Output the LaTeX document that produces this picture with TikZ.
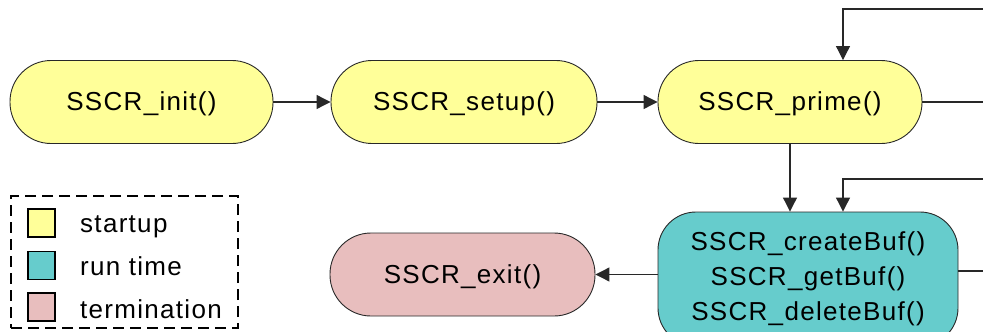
\documentclass[tikz,border=0pt]{standalone}
\usepackage{fontspec}
\setmainfont{Liberation Sans}[LetterSpace=5]
\usetikzlibrary{arrows.meta}
\definecolor{startupc}{RGB}{255,255,153}
\definecolor{runc}{RGB}{102,204,204}
\definecolor{termc}{RGB}{232,190,190}
\definecolor{edgec}{RGB}{40,40,40}
\tikzset{
  x=1pt, y=-1pt,
  lbl/.style={font=\fontsize{26}{35}\selectfont},
  stadium/.style={draw=edgec, line width=0.9pt, rounded corners=41pt,
    minimum height=83pt, inner sep=0pt, text height=23pt, text depth=5.5pt, lbl},
  conn/.style={draw=edgec, line width=1.1pt},
  arr/.style={conn, -{Triangle[length=14pt, width=14pt]}},
  keybox/.style={draw=black, line width=1.4pt, minimum width=27pt,
    minimum height=28pt, inner sep=0pt},
  keytext/.style={anchor=base west, inner sep=0pt, lbl}
}
\begin{document}
\begin{tikzpicture}
\useasboundingbox (0,0) rectangle (983,332);
\clip (0,0) rectangle (983,332);

% startup stages
\node[stadium, fill=startupc, minimum width=263pt] (init)  at (141.5,102) {SSCR\_init()};
\node[stadium, fill=startupc, minimum width=266pt] (setup) at (464,102)   {SSCR\_setup()};
\node[stadium, fill=startupc, minimum width=264pt] (prime) at (790,102)   {SSCR\_prime()};

% run-time buffer calls
\node[draw=edgec, line width=0.9pt, fill=runc, rounded corners=38pt,
      minimum width=300pt, minimum height=134pt, inner sep=0pt,
      align=center, lbl] (buf) at (808,279)
      {SSCR\_createBuf()\\SSCR\_getBuf()\\SSCR\_deleteBuf()};

% termination
\node[stadium, fill=termc, minimum width=265pt] (exit) at (462.5,274.5) {SSCR\_exit()};

% loose ends running off to the right
\coordinate (inA)  at (990,9);
\coordinate (outA) at (990,102);
\coordinate (inB)  at (990,179);
\coordinate (outB) at (990,271);

% connectors
\draw[arr] (init.east) -- (setup.west);
\draw[arr] (setup.east) -- (prime.west);
\draw[arr] (inA) -| ([xshift=53pt]prime.north);
\draw[conn] (prime.east) -- (outA);
\draw[arr] (prime.south) -- (prime.south |- buf.north);
\draw[arr] (inB) -| ([xshift=35pt]buf.north);
\draw[conn] (buf.east |- outB) -- (outB);
\draw[arr] (buf.west |- exit.east) -- (exit.east);

% legend
\node[draw=black, line width=1.3pt, dash pattern=on 11pt off 6pt,
      minimum width=227pt, minimum height=132pt, inner sep=0pt] (legend) at (124.5,262) {};
\node[keybox, fill=startupc] (k1) at (41.5,223) {};
\node[keybox, fill=runc]     (k2) at (41.5,265.5) {};
\node[keybox, fill=termc]    (k3) at (41.5,307) {};
\node[keytext] (t1) at (80,232)   {startup};
\node[keytext] (t2) at (80,275)   {run time};
\node[keytext] (t3) at (80,318)   {termination};
\end{tikzpicture}
\end{document}
